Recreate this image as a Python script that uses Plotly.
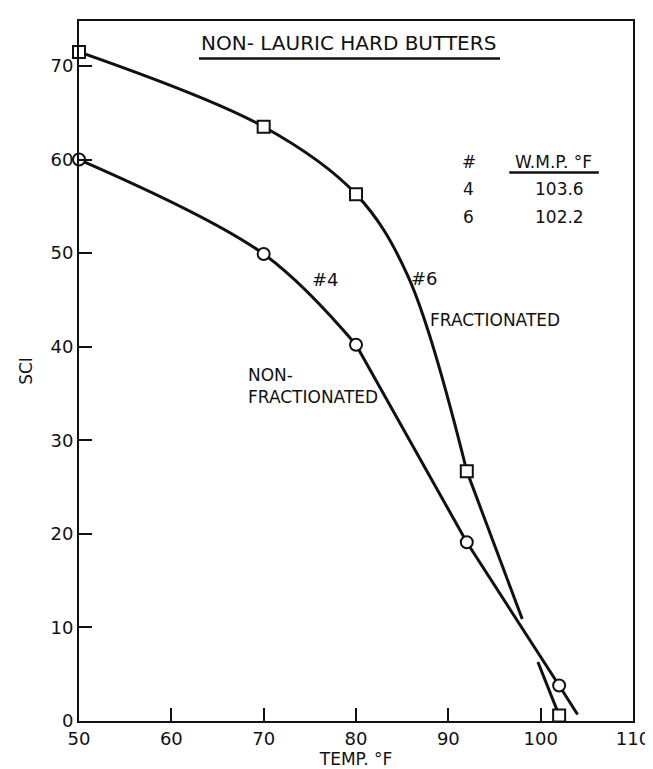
import plotly.graph_objects as go

# ---- data ----
frac_x = [50, 70, 80, 92, 102]          # fractionated (#6) points
frac_y = [71.5, 63.5, 56.3, 26.7, 0.6]
nonfrac_x = [50, 70, 80, 92, 102]       # non-fractionated (#4) points
nonfrac_y = [60.0, 49.9, 40.2, 19.1, 3.8]

# hand-drawn curve paths (through the points, a knee
# read on the #6 curve, and the drawn end extensions)
frac_curve_x = [50, 70, 80, 85.6, 92]
frac_curve_y = [71.5, 63.5, 56.3, 47.6, 26.7]
frac_tail1_x = [92, 98]
frac_tail1_y = [26.7, 10.9]
frac_tail2_x = [99.7, 102]
frac_tail2_y = [6.3, 0.6]
nonfrac_curve_x = [50, 70, 80]
nonfrac_curve_y = [60.0, 49.9, 40.2]
nonfrac_tail_x = [80, 92, 102, 104]
nonfrac_tail_y = [40.2, 19.1, 3.8, 0.7]

table_ids = ["4", "6"]
table_wmp = [103.6, 102.2]

x_ticks = [50, 60, 70, 80, 90, 100, 110]
y_ticks = [0, 10, 20, 30, 40, 50, 60, 70]

FONT = "DejaVu Sans, Verdana, sans-serif"
BLACK = "#111111"

fig = go.Figure()

spline = dict(color=BLACK, width=3, shape="spline", smoothing=1.0)
straight = dict(color=BLACK, width=3)
for xs, ys, ln in [
    (frac_curve_x, frac_curve_y, spline),
    (frac_tail1_x, frac_tail1_y, straight),
    (frac_tail2_x, frac_tail2_y, straight),
    (nonfrac_curve_x, nonfrac_curve_y, spline),
    (nonfrac_tail_x, nonfrac_tail_y, straight),
]:
    fig.add_trace(go.Scatter(x=xs, y=ys, mode="lines", line=ln,
                             hoverinfo="skip", showlegend=False))

fig.add_trace(go.Scatter(x=frac_x, y=frac_y, mode="markers", name="#6 Fractionated",
                         marker=dict(symbol="square", size=12, color="white",
                                     line=dict(color=BLACK, width=2)),
                         cliponaxis=False, showlegend=False))
fig.add_trace(go.Scatter(x=nonfrac_x, y=nonfrac_y, mode="markers", name="#4 Non-fractionated",
                         marker=dict(symbol="circle", size=12, color="white",
                                     line=dict(color=BLACK, width=2)),
                         cliponaxis=False, showlegend=False))

ann = []
def txt(x, y, s, size=17, xanchor="center", align="center"):
    ann.append(dict(x=x, y=y, xref="x", yref="y", text=s, showarrow=False,
                    xanchor=xanchor, yanchor="middle", align=align,
                    font=dict(family=FONT, size=size, color=BLACK)))

txt(79.2, 72.5, "NON- LAURIC HARD BUTTERS", size=20)
txt(76.7, 47.2, "#4", size=18)
txt(87.4, 47.3, "#6", size=18)
txt(95.1, 42.8, "FRACTIONATED", size=17)
txt(68.1, 35.8, "NON-<br>FRACTIONATED", size=17, xanchor="left", align="left")
txt(92.2, 59.7, "#", size=17)
txt(101.4, 59.7, "W.M.P. °F", size=17)
for i, (tid, w) in enumerate(zip(table_ids, table_wmp)):
    yy = 56.8 - 2.9 * i
    txt(92.2, yy, tid, size=17)
    txt(102.0, yy, f"{w:.1f}", size=17)

shapes = [
    dict(type="line", xref="x", yref="y", x0=63.0, x1=95.6, y0=70.8, y1=70.8,
         line=dict(color=BLACK, width=2.5)),
    dict(type="line", xref="x", yref="y", x0=96.6, x1=106.3, y0=58.6, y1=58.6,
         line=dict(color=BLACK, width=2.5)),
]

axis_common = dict(showline=True, linecolor=BLACK, linewidth=2, mirror=True,
                   ticks="inside", ticklen=13, tickwidth=1.5, tickcolor=BLACK,
                   showgrid=False, zeroline=False, ticklabeloverflow="allow",
                   tickfont=dict(family=FONT, size=18, color=BLACK))

fig.update_layout(
    width=653, height=769,
    margin=dict(l=71, r=15, t=11, b=50),
    paper_bgcolor="white", plot_bgcolor="white",
    xaxis=dict(range=[50, 110], tickvals=x_ticks,
               title=dict(text="TEMP. °F", standoff=6,
                          font=dict(family=FONT, size=17, color=BLACK)),
               **axis_common),
    yaxis=dict(range=[0, 74.8], tickvals=y_ticks,
               title=dict(text="SCI", standoff=14,
                          font=dict(family=FONT, size=17, color=BLACK)),
               **axis_common),
    annotations=ann, shapes=shapes,
)

fig.write_html("out.html")
